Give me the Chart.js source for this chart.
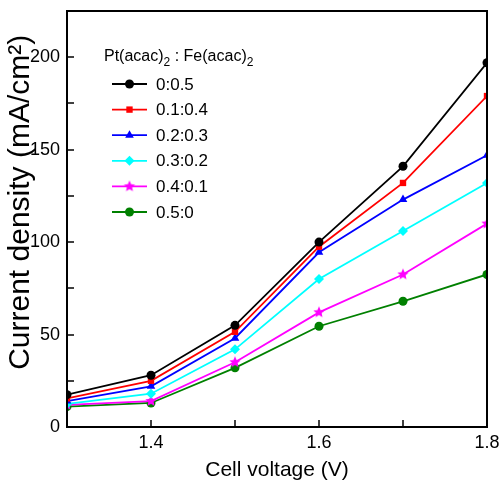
<!DOCTYPE html>
<html>
<head>
<meta charset="utf-8">
<script src="https://cdn.jsdelivr.net/npm/chart.js@4/dist/chart.umd.min.js"></script>
<style>
html,body{margin:0;padding:0;background:#fff;}
#wrap{width:499px;height:483px;position:relative;}
</style>
</head>
<body>
<div id="wrap"><canvas id="c" width="499" height="483"></canvas></div>
<script>
// ---- data ----
const voltages = [1.3, 1.4, 1.5, 1.6, 1.7, 1.8];
const seriesLabels = ['0:0.5', '0.1:0.4', '0.2:0.3', '0.3:0.2', '0.4:0.1', '0.5:0'];
const s00_05 = [17.5, 28, 55, 100, 141, 197];
const s01_04 = [15.5, 25, 51.5, 97.5, 132, 179];
const s02_03 = [14, 22, 48, 94.5, 123, 147];
const s03_02 = [12.5, 18, 42, 80, 106, 132];
const s04_01 = [12, 14, 35, 62, 82.5, 110];
const s05_00 = [11, 13, 32, 54.5, 68, 82.5];
const xTickLabels = ['1.4', '1.6', '1.8'];
const yTickLabels = ['0', '50', '100', '150', '200'];

const colors = ['#000000', '#ff0000', '#0000ff', '#00ffff', '#ff00ff', '#008000'];

const SANS = '"Liberation Sans", Arial, sans-serif';

function starCanvas(color, r) {
  const cv = document.createElement('canvas');
  const s = Math.ceil(r * 2 + 2);
  cv.width = s; cv.height = s;
  const g = cv.getContext('2d');
  g.fillStyle = color;
  g.beginPath();
  for (let i = 0; i < 10; i++) {
    const a = -Math.PI / 2 + i * Math.PI / 5;
    const rr = i % 2 === 0 ? r : r * 0.45;
    const x = s / 2 + rr * Math.cos(a), y = s / 2 + rr * Math.sin(a);
    i === 0 ? g.moveTo(x, y) : g.lineTo(x, y);
  }
  g.closePath();
  g.fill();
  return cv;
}
const star = starCanvas('#ff00ff', 6);

const allSeries = [s00_05, s01_04, s02_03, s03_02, s04_01, s05_00];
const styles = ['circle', 'rect', 'triangle', 'rectRot', star, 'circle'];
const radii = [4.5, 4.5, 5, 5, 5, 4.5];

const datasets = allSeries.map((arr, i) => ({
  label: seriesLabels[i],
  data: arr.map((v, j) => ({x: voltages[j], y: v})),
  borderColor: colors[i],
  backgroundColor: colors[i],
  pointBackgroundColor: colors[i],
  pointBorderColor: colors[i],
  borderWidth: 1.8,
  pointStyle: styles[i],
  pointRadius: radii[i],
  pointBorderWidth: 0,
  tension: 0,
  clip: 0
}));

const tickMarks = {
  id: 'tickMarks',
  afterDatasetsDraw(chart) {
    const ctx = chart.ctx, a = chart.chartArea;
    const xs = chart.scales.x, ys = chart.scales.y;
    ctx.save();
    ctx.strokeStyle = '#000';
    ctx.lineWidth = 1.5;
    xs.ticks.forEach(t => {
      const p = Math.round(xs.getPixelForValue(t.value));
      if (p <= a.left + 1 || p >= a.right - 1) return;
      ctx.beginPath(); ctx.moveTo(p, a.bottom); ctx.lineTo(p, a.bottom - 7); ctx.stroke();
    });
    ys.ticks.forEach(t => {
      const p = Math.round(ys.getPixelForValue(t.value));
      if (p <= a.top + 1 || p >= a.bottom - 1) return;
      ctx.beginPath(); ctx.moveTo(a.left, p); ctx.lineTo(a.left + 7, p); ctx.stroke();
    });
    ctx.lineWidth = 2;
    ctx.strokeRect(a.left, a.top, a.right - a.left, a.bottom - a.top);
    ctx.restore();
  }
};

const innerLegend = {
  id: 'innerLegend',
  afterDraw(chart) {
    const ctx = chart.ctx;
    ctx.save();
    ctx.fillStyle = '#000';
    ctx.textBaseline = 'alphabetic';
    const big = '16px ' + SANS, small = '12px ' + SANS;
    let x = 104; const yb = 61;
    const parts = [['Pt(acac)', big, 0], ['2', small, 5], [' : Fe(acac)', big, 0], ['2', small, 5]];
    parts.forEach(([t, f, dy]) => {
      ctx.font = f;
      ctx.fillText(t, x, yb + dy);
      x += ctx.measureText(t).width;
    });
    chart.data.datasets.forEach((ds, i) => {
      const cy = 84 + i * 25.6;
      ctx.strokeStyle = ds.borderColor;
      ctx.lineWidth = 1.8;
      ctx.beginPath(); ctx.moveTo(112, cy); ctx.lineTo(147, cy); ctx.stroke();
      ctx.fillStyle = ds.backgroundColor;
      Chart.helpers.drawPoint(ctx, {pointStyle: ds.pointStyle, radius: ds.pointRadius, rotation: 0, borderWidth: 0}, 129.5, cy);
      ctx.fillStyle = '#000';
      ctx.font = '17px ' + SANS;
      ctx.textBaseline = 'middle';
      ctx.fillText(ds.label, 156, cy + 1);
      ctx.textBaseline = 'alphabetic';
    });
    ctx.restore();
  }
};

new Chart(document.getElementById('c'), {
  type: 'line',
  data: {datasets},
  options: {
    responsive: false,
    animation: false,
    devicePixelRatio: 1,
    layout: {padding: {top: 11, right: 12, left: 0, bottom: 0}},
    plugins: {legend: {display: false}, tooltip: {enabled: false}},
    scales: {
      x: {
        type: 'linear', min: 1.3, max: 1.8,
        grid: {display: false, drawTicks: false},
        border: {display: false},
        afterFit(s) { s.height = 56; s.paddingLeft = 0; s.paddingRight = 0; },
        ticks: {
          stepSize: 0.1, autoSkip: false, maxRotation: 0, padding: 5,
          color: '#000', font: {family: SANS, size: 18},
          callback(v) { const s = (Math.round(v * 10) / 10).toFixed(1); return xTickLabels.includes(s) ? s : ''; }
        },
        title: {display: true, text: 'Cell voltage (V)', color: '#000', font: {family: SANS, size: 21}, padding: {top: 0, bottom: 0}}
      },
      y: {
        min: 0, max: 225,
        grid: {display: false, drawTicks: false},
        border: {display: false},
        afterFit(s) { s.width = 67; s.paddingTop = 0; s.paddingBottom = 0; },
        ticks: {
          stepSize: 25, autoSkip: false, padding: 7,
          color: '#000', font: {family: SANS, size: 18},
          callback(v) { const s = String(Math.round(v)); return yTickLabels.includes(s) ? s : ''; }
        },
        title: {display: true, text: '\u00A0\u00A0\u00A0\u00A0Current density (mA/cm²)', color: '#000', font: {family: SANS, size: 30}, padding: {top: 3, bottom: 0}}
      }
    }
  },
  plugins: [tickMarks, innerLegend]
});
</script>
</body>
</html>
